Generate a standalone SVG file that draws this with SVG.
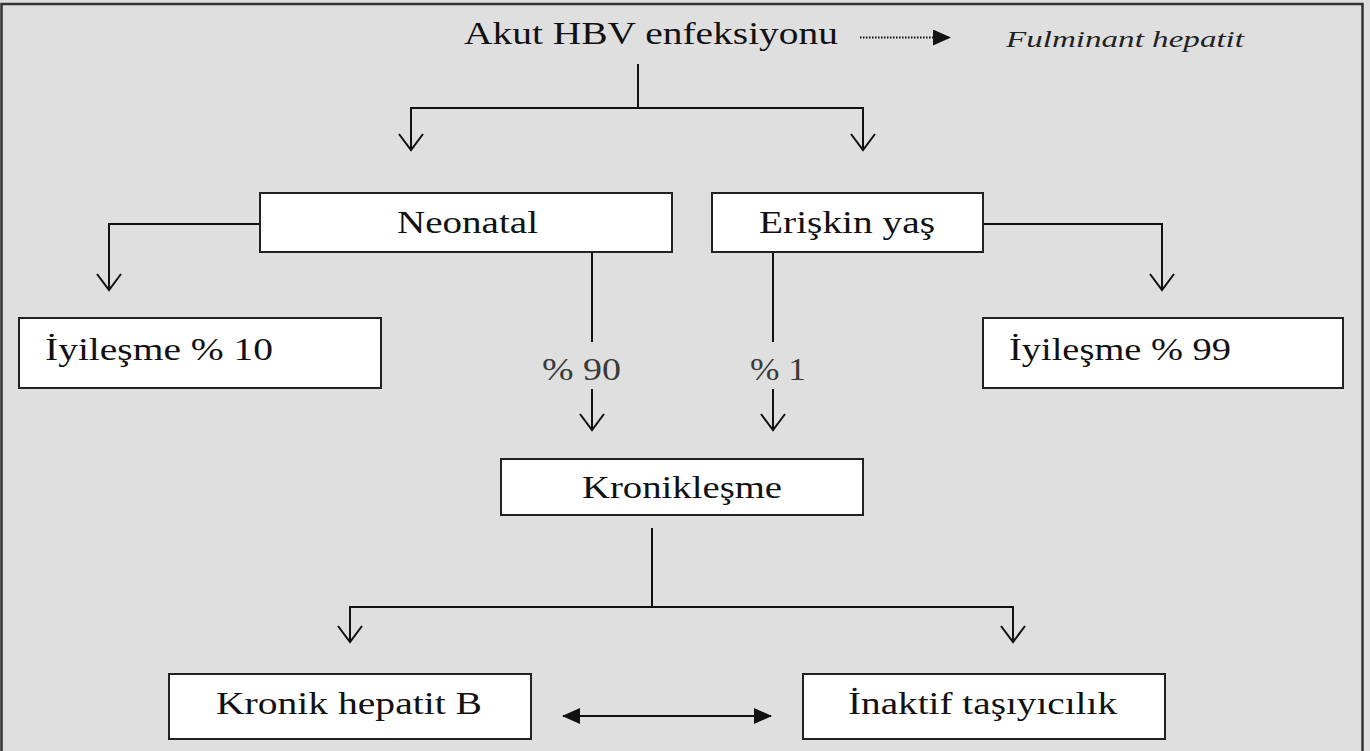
<svg xmlns="http://www.w3.org/2000/svg" width="1370" height="751" viewBox="0 0 1370 751">
<defs>
<style>
.t{font-family:'Liberation Serif','Times New Roman',Tinos,serif;font-size:32px;fill:#111;}
.lbl{font-family:'Liberation Serif','Times New Roman',Tinos,serif;font-size:32px;fill:#3a3a3a;}
.it{font-family:'Liberation Serif','Times New Roman',Tinos,serif;font-size:24px;font-style:italic;fill:#222;}
.box{fill:#fff;stroke:#222;stroke-width:2;}
.ln{fill:none;stroke:#111;stroke-width:2;}
</style>
<marker id="open" markerUnits="userSpaceOnUse" markerWidth="20" markerHeight="28" viewBox="0 0 20 28" refX="18" refY="14" orient="auto-start-reverse">
<path d="M2,2 L18,14 L2,26" fill="none" stroke="#111" stroke-width="2"/>
</marker>
<marker id="fill" markerUnits="userSpaceOnUse" markerWidth="18" markerHeight="16" viewBox="0 0 18 16" refX="17" refY="8" orient="auto-start-reverse">
<path d="M0,0 L18,8 L0,16 Z" fill="#111"/>
</marker>
</defs>
<rect x="0" y="0" width="1370" height="751" fill="#dfdfdf"/>
<rect x="1.5" y="4" width="1361" height="770" fill="none" stroke="#333" stroke-width="2.5"/>

<g id="connectors">
<line class="ln" x1="860" y1="37.5" x2="950" y2="37.5" stroke-dasharray="1.5 1.5" stroke-width="1.5" marker-end="url(#fill)"/>
<line class="ln" x1="638" y1="64" x2="638" y2="108"/>
<polyline class="ln" points="411,150 411,108 863,108 863,150" marker-start="url(#open)" marker-end="url(#open)"/>
<polyline class="ln" points="260,224 109,224 109,290" marker-end="url(#open)"/>
<polyline class="ln" points="983,224 1162,224 1162,290" marker-end="url(#open)"/>
<line class="ln" x1="592" y1="252" x2="592" y2="342"/>
<line class="ln" x1="592" y1="389" x2="592" y2="430" marker-end="url(#open)"/>
<line class="ln" x1="773" y1="252" x2="773" y2="342"/>
<line class="ln" x1="773" y1="389" x2="773" y2="430" marker-end="url(#open)"/>
<line class="ln" x1="652" y1="528" x2="652" y2="607"/>
<polyline class="ln" points="350,642 350,607 1013,607 1013,642" marker-start="url(#open)" marker-end="url(#open)"/>
<line class="ln" x1="563" y1="716" x2="771" y2="716" marker-start="url(#fill)" marker-end="url(#fill)"/>
</g>

<g id="akut">
<text class="t" x="464" y="44" textLength="374" lengthAdjust="spacingAndGlyphs">Akut HBV enfeksiyonu</text>
</g>
<g id="fulminant">
<text class="it" x="1006" y="47" textLength="238" lengthAdjust="spacingAndGlyphs">Fulminant hepatit</text>
</g>
<g id="neonatal">
<rect class="box" x="260" y="193" width="412" height="59"/>
<text class="t" x="397" y="233" textLength="141" lengthAdjust="spacingAndGlyphs">Neonatal</text>
</g>
<g id="eriskin">
<rect class="box" x="712" y="193" width="271" height="59"/>
<text class="t" x="759" y="233" textLength="176" lengthAdjust="spacingAndGlyphs">Erişkin yaş</text>
</g>
<g id="iyilesme10">
<rect class="box" x="19" y="318" width="362" height="70"/>
<text class="t" x="45" y="360" textLength="228" lengthAdjust="spacingAndGlyphs">İyileşme  % 10</text>
</g>
<g id="iyilesme99">
<rect class="box" x="983" y="318" width="360" height="70"/>
<text class="t" x="1009" y="360" textLength="222" lengthAdjust="spacingAndGlyphs">İyileşme  % 99</text>
</g>
<g id="p90">
<text class="lbl" x="542" y="380" textLength="79" lengthAdjust="spacingAndGlyphs">% 90</text>
</g>
<g id="p1">
<text class="lbl" x="750" y="380" textLength="56" lengthAdjust="spacingAndGlyphs">% 1</text>
</g>
<g id="kroniklesme">
<rect class="box" x="501" y="459" width="362" height="56"/>
<text class="t" x="582" y="498" textLength="200" lengthAdjust="spacingAndGlyphs">Kronikleşme</text>
</g>
<g id="kronikhepatit">
<rect class="box" x="169" y="674" width="362" height="65"/>
<text class="t" x="216" y="714" textLength="266" lengthAdjust="spacingAndGlyphs">Kronik hepatit B</text>
</g>
<g id="inaktif">
<rect class="box" x="803" y="674" width="362" height="65"/>
<text class="t" x="848" y="714" textLength="269" lengthAdjust="spacingAndGlyphs">İnaktif taşıyıcılık</text>
</g>
</svg>
